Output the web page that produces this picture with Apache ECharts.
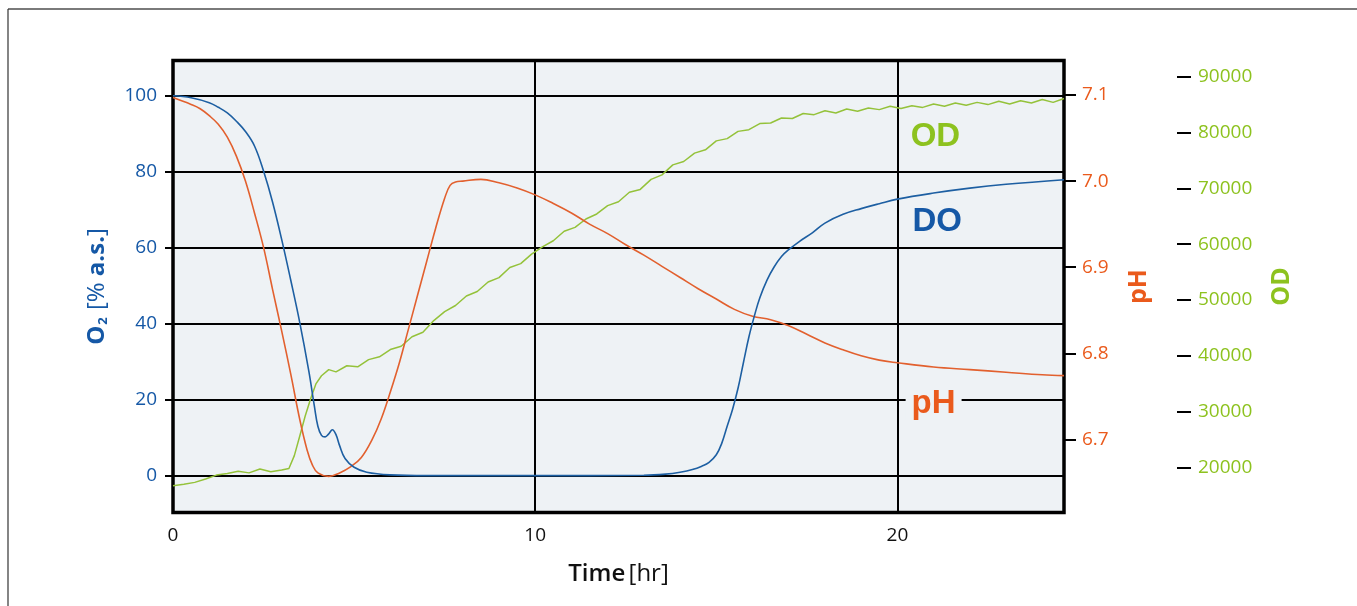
<!DOCTYPE html>
<html>
<head>
<meta charset="utf-8">
<script src="https://cdn.jsdelivr.net/npm/echarts@6.0.0/dist/echarts.min.js"></script>
<style>
  html, body { margin: 0; padding: 0; background: #fff; }
  #main { width: 1357px; height: 606px; }
</style>
</head>
<body>
<div id="main"></div>
<script>
// dissolved oxygen [% a.s.]
const timeDO = [0, 0.5, 1.0, 1.25, 1.5, 1.75, 2.0, 2.25, 2.5, 2.75, 3.0, 3.25, 3.5, 3.75, 3.9, 4.0, 4.1, 4.2, 4.3,
  4.4, 4.5, 4.6, 4.75, 5.0, 5.35, 6.0, 7.0, 10.0, 13.0, 13.6, 14.0, 14.34, 14.6, 14.8, 15.0, 15.15, 15.3,
  15.45, 15.6, 15.75, 15.9, 16.05, 16.2, 16.4, 16.6, 16.8, 17.0, 17.3, 17.66, 18.0, 18.5, 19.0, 19.5,
  20.0, 21.0, 22.0, 23.0, 24.6];
const valuesDO = [100, 99.5, 98.2, 97.0, 95.5, 93.3, 90.6, 86.8, 80.2, 72, 62.2, 51.5, 40.3, 27.5, 18.5, 13.0, 10.6,
  10.2, 11.0, 12.1, 10.8, 7.9, 4.5, 2.2, 0.9, 0.2, 0, 0, 0.1, 0.4, 0.9, 1.6, 2.5, 3.5, 5.5, 8.5, 13.0,
  17.5, 23.0, 29.8, 36.5, 42.0, 46.8, 51.5, 55.0, 57.7, 59.5, 61.7, 64.0, 66.5, 68.8, 70.3, 71.6,
  72.8, 74.4, 75.7, 76.7, 77.9];

// pH
const timePH = [0, 0.5, 0.75, 1.0, 1.25, 1.5, 1.75, 2.0, 2.25, 2.5, 2.75, 3.0, 3.25, 3.5, 3.7, 3.85, 4.0, 4.3, 4.6,
  4.9, 5.2, 5.5, 5.75, 6.0, 6.25, 6.5, 6.75, 7.0, 7.25, 7.5, 7.65, 7.8, 8.0, 8.5, 9.0, 9.5, 10.0, 10.5,
  11.0, 11.5, 12.0, 12.5, 13.0, 13.5, 14.0, 14.5, 15.0, 15.5, 16.0, 16.5, 17.0, 17.5, 18.0, 18.5, 19.0,
  19.5, 20.0, 21.0, 22.0, 23.0, 24.0, 24.6];
const valuesPH = [7.097, 7.089, 7.084, 7.076, 7.066, 7.051, 7.029, 7.000, 6.963, 6.923, 6.874, 6.826, 6.776, 6.723,
  6.688, 6.670, 6.661, 6.657, 6.661, 6.668, 6.679, 6.700, 6.724, 6.755, 6.789, 6.828, 6.867, 6.906, 6.945,
  6.980, 6.995, 6.999, 7.000, 7.002, 6.998, 6.992, 6.984, 6.974, 6.963, 6.950, 6.939, 6.926, 6.914, 6.901,
  6.888, 6.875, 6.863, 6.851, 6.843, 6.839, 6.832, 6.822, 6.812, 6.804, 6.797, 6.792, 6.789, 6.784, 6.781,
  6.778, 6.775, 6.774];

// optical density
const timeOD = [0, 0.3, 0.6, 0.9, 1.2, 1.5, 1.8, 2.1, 2.4, 2.7, 3.0, 3.2, 3.35, 3.5, 3.65, 3.8, 3.95, 4.1, 4.3, 4.5,
  4.8, 5.1, 5.4, 5.7, 6.0, 6.3, 6.6, 6.9, 7.2, 7.5, 7.8, 8.1, 8.4, 8.7, 9.0, 9.3, 9.6, 9.9, 10.2, 10.5, 10.8,
  11.1, 11.4, 11.7, 12.0, 12.3, 12.6, 12.9, 13.2, 13.5, 13.8, 14.1, 14.4, 14.7, 15.0, 15.3, 15.6, 15.9, 16.2,
  16.5, 16.8, 17.1, 17.4, 17.7, 18.0, 18.3, 18.6, 18.9, 19.2, 19.5, 19.8, 20.1, 20.4, 20.7, 21.0, 21.3, 21.6,
  21.9, 22.2, 22.5, 22.8, 23.1, 23.4, 23.7, 24.0, 24.3, 24.6];
const valuesOD = [16700, 16950, 17300, 17900, 18600, 18900, 19300, 19000, 19700, 19200, 19500, 19800, 22100, 25600,
  29200, 32300, 35000, 36400, 37500, 37100, 38200, 38000, 39300, 39800, 41100, 41700, 43400, 44200, 46300,
  47900, 49000, 50700, 51500, 53200, 54000, 55800, 56500, 58200, 59500, 60600, 62300, 63000, 64500, 65400,
  66900, 67600, 69300, 69800, 71600, 72400, 74200, 74800, 76300, 76900, 78500, 78900, 80200, 80500, 81600,
  81700, 82600, 82500, 83400, 83200, 83900, 83500, 84200, 83800, 84400, 84100, 84700, 84300, 84800, 84500,
  85100, 84700, 85300, 84900, 85400, 85000, 85600, 85100, 85700, 85300, 85900, 85400, 86100];

const timeTicks = [0, 10, 20];
const o2Ticks = [0, 20, 40, 60, 80, 100];
const phTicks = [6.7, 6.8, 6.9, 7.0, 7.1];
const odTicks = [20000, 30000, 40000, 50000, 60000, 70000, 80000, 90000];

const blue = "#1558a6";
const orange = "#ea5a1c";
const green = "#8dc21f";
const font = "Open Sans";

function pairs(xs, ys) {
  return xs.map((x, i) => [x, ys[i]]);
}

let chart = echarts.init(document.getElementById("main"));

let option = {
  animation: false,
  backgroundColor: "#fff",
  grid: {
    left: 173,
    right: 293,
    top: 60.5,
    bottom: 93.5,
    show: true,
    backgroundColor: "#eef2f5",
    borderColor: "#000",
    borderWidth: 3.5,
  },
  graphic: [
    { type: "line", shape: { x1: 8, y1: 9, x2: 1357, y2: 9 }, style: { stroke: "#7a7a7a", lineWidth: 2 } },
    { type: "line", shape: { x1: 8, y1: 9, x2: 8, y2: 606 }, style: { stroke: "#333", lineWidth: 1.2 } },
  ],
  xAxis: {
    type: "value",
    min: 0,
    max: 24.6,
    axisLine: { show: false },
    axisTick: { show: true, length: 6, customValues: timeTicks, lineStyle: { color: "#000", width: 2 } },
    axisLabel: { customValues: timeTicks, color: "#111", fontFamily: font, fontSize: 19, margin: 14 },
    splitLine: { show: true, lineStyle: { color: "#000", width: 2 } },
    name: "{b|Time} {n|[hr]}",
    nameLocation: "middle",
    nameGap: 50,
    nameTextStyle: {
      color: "#111",
      rich: {
        b: { fontFamily: font, fontSize: 24, fontWeight: 600, color: "#111" },
        n: { fontFamily: font, fontSize: 24, color: "#111" },
      },
    },
  },
  yAxis: [
    {
      type: "value",
      position: "left",
      min: -9.7,
      max: 109.3,
      axisLine: { show: false },
      axisTick: { show: true, length: 8, customValues: o2Ticks, lineStyle: { color: "#000", width: 2 } },
      axisLabel: { customValues: o2Ticks, color: blue, fontFamily: font, fontSize: 19, margin: 16 },
      splitLine: { show: true, lineStyle: { color: "#000", width: 2 } },
      name: "{b|O}{s|2}{n| [% }{b|a.s.}{n|]}",
      nameLocation: "middle",
      nameGap: 64,
      nameTextStyle: {
        color: blue,
        rich: {
          b: { fontFamily: font, fontSize: 24, fontWeight: "bold", color: blue },
          n: { fontFamily: font, fontSize: 24, color: blue },
          s: { fontFamily: font, fontSize: 13, fontWeight: "bold", color: blue, lineHeight: 13, padding: [12, 1, 0, 1] },
        },
      },
    },
    {
      type: "value",
      position: "right",
      min: 6.615,
      max: 7.1401,
      axisLine: { show: false },
      axisTick: { show: true, length: 12, customValues: phTicks, lineStyle: { color: "#000", width: 2 } },
      axisLabel: {
        customValues: phTicks,
        color: orange,
        fontFamily: font,
        fontSize: 19,
        margin: 18,
        formatter: (v) => v.toFixed(1),
      },
      splitLine: { show: false },
      name: "pH",
      nameLocation: "middle",
      nameGap: 62,
      nameTextStyle: { color: orange, fontFamily: font, fontSize: 25, fontWeight: "bold" },
    },
    {
      type: "value",
      position: "right",
      offset: 113,
      min: 11900,
      max: 92903,
      axisLine: { show: false },
      axisTick: { show: true, length: 14, customValues: odTicks, lineStyle: { color: "#000", width: 2 } },
      axisLabel: {
        customValues: odTicks,
        color: green,
        fontFamily: font,
        fontSize: 19,
        margin: 21,
        formatter: (v) => String(v),
      },
      splitLine: { show: false },
      name: "OD",
      nameLocation: "middle",
      nameGap: 92,
      nameTextStyle: { color: green, fontFamily: font, fontSize: 25, fontWeight: "bold" },
    },
  ],
  series: [
    {
      name: "OD",
      type: "line",
      yAxisIndex: 2,
      data: pairs(timeOD, valuesOD),
      showSymbol: false,
      lineStyle: { color: "#94c23a", width: 1.5 },
      z: 3,
    },
    {
      name: "pH",
      type: "line",
      yAxisIndex: 1,
      data: pairs(timePH, valuesPH),
      showSymbol: false,
      smooth: 0.4,
      lineStyle: { color: "#e2602e", width: 1.6 },
      z: 4,
    },
    {
      name: "DO",
      type: "line",
      yAxisIndex: 0,
      data: pairs(timeDO, valuesDO),
      showSymbol: false,
      smooth: 0.4,
      lineStyle: { color: "#1d5fa2", width: 1.6 },
      z: 5,
      markPoint: {
        symbol: "circle",
        symbolSize: 1,
        silent: true,
        itemStyle: { color: "rgba(0,0,0,0)" },
        label: {
          show: true,
          position: "inside",
          fontFamily: "Liberation Sans",
          fontWeight: "bold",
          fontSize: 33,
        },
        data: [
          { coord: [21.05, 89.3], label: { formatter: "OD", color: green } },
          { coord: [21.1, 66.9], label: { formatter: "DO", color: blue } },
          {
            coord: [21.0, 19.0],
            label: { formatter: "pH", color: orange, backgroundColor: "#eef2f5", padding: [0, 6, 0, 6] },
          },
        ],
      },
    },
  ],
};

chart.setOption(option);
</script>
</body>
</html>
